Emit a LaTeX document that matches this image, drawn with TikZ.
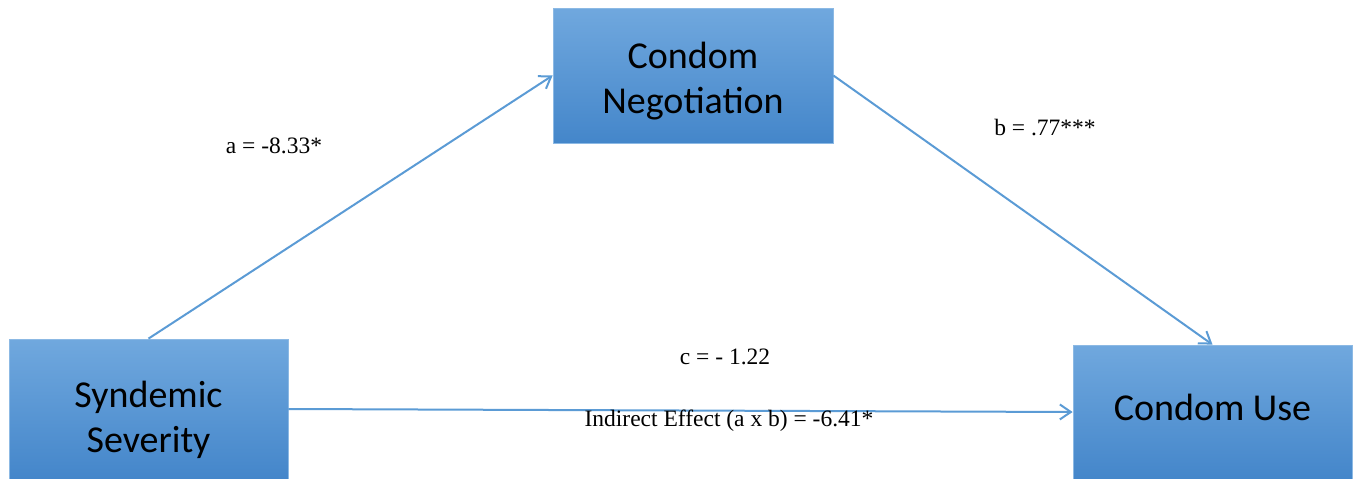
\documentclass[tikz,border=0pt]{standalone}
\usepackage{fontspec}
\setmainfont{Liberation Serif}
\newfontfamily\boxfont{Carlito}
\usetikzlibrary{arrows.meta}
\definecolor{linec}{RGB}{91,155,213}
\definecolor{boxtop}{RGB}{112,168,222}
\definecolor{boxbot}{RGB}{68,134,202}
\definecolor{boxedge}{RGB}{140,185,228}
\newcommand{\shifttext}[2]{\raisebox{#1}[\height][\depth]{\begin{tabular}{@{}c@{}}#2\end{tabular}}}
\begin{document}
\begin{tikzpicture}[x=1pt,y=-1pt,
  varbox/.style={rectangle, top color=boxtop, bottom color=boxbot, draw=boxedge, line width=0.8pt,
    font=\boxfont\fontsize{38}{45}\selectfont, align=center, inner sep=0pt},
  path/.style={draw=linec, line width=2pt, -{Straight Barb[length=11pt,width=15pt,line width=2pt]}},
  lbl/.style={font=\fontsize{23.5}{27}\selectfont, inner sep=0pt}]
\useasboundingbox (0,0) rectangle (1360,479);
\node[varbox, minimum width=280pt, minimum height=135pt] (neg) at (693,75.5) {\shifttext{-6pt}{Condom\\Negotiation}};
\node[varbox, minimum width=279pt, minimum height=140pt] (sev) at (148.5,409) {\shifttext{-12pt}{Syndemic\\Severity}};
\node[varbox, minimum width=279pt, minimum height=134pt] (use) at (1212.5,412) {\shifttext{0.5pt}{Condom Use}};
\draw[path] (sev.north) -- (neg.west);
\draw[path] (neg.east) -- (use.north);
\draw[path] (sev.east) -- (use.west);
\node[lbl] (la) at (274,146) {a = -8.33*};
\node[lbl] (lb) at (1045,128) {b = .77***};
\node[lbl] (lc) at (725,357) {c = - 1.22};
\node[lbl] (li) at (729,421) {Indirect Effect (a x b) = -6.41*};
\end{tikzpicture}
\end{document}
